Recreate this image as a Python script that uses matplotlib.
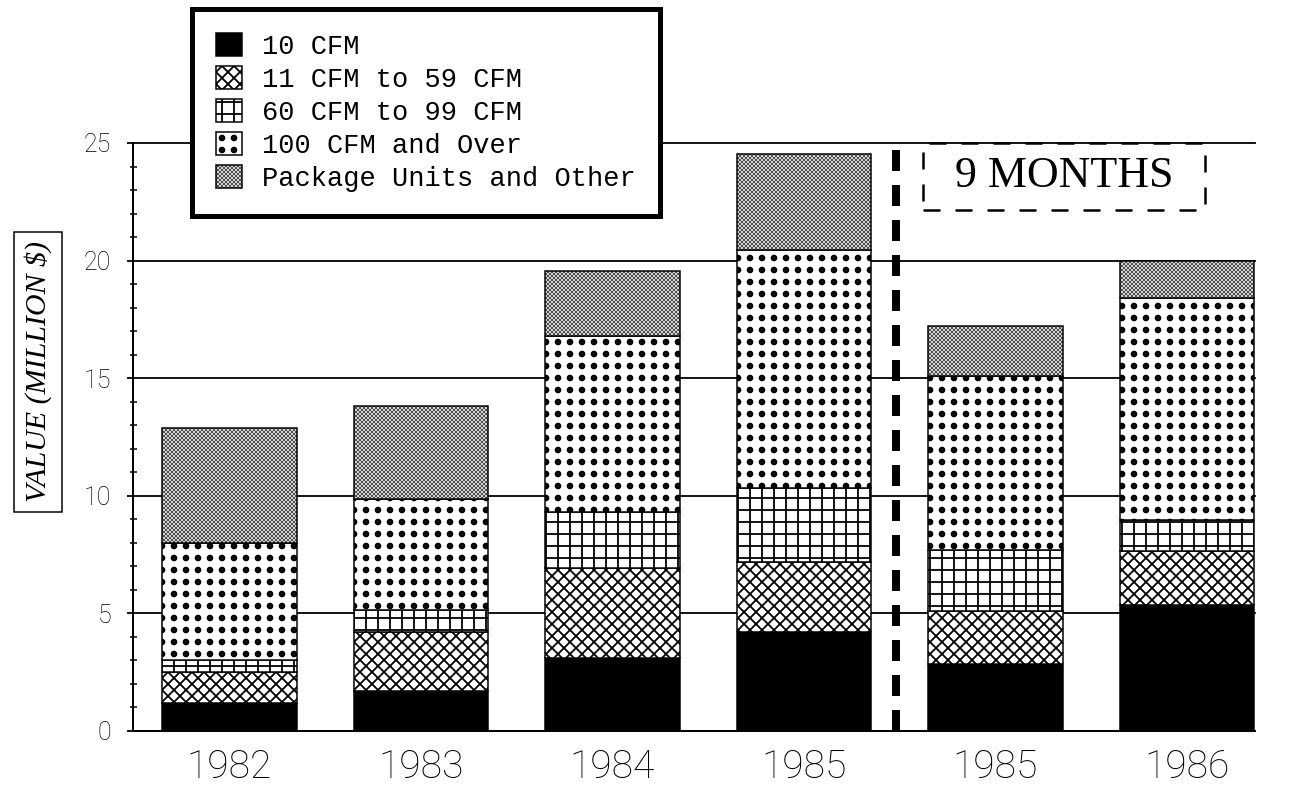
import matplotlib
matplotlib.use("Agg")
import numpy as np
import matplotlib.pyplot as plt
import matplotlib.hatch as mhatch
from matplotlib.path import Path
from matplotlib.patches import Rectangle
from matplotlib.ticker import MultipleLocator, AutoMinorLocator

# values in million $
years = ["1982", "1983", "1984", "1985", "1985", "1986"]
series = ["10 CFM", "11 CFM to 59 CFM", "60 CFM to 99 CFM",
          "100 CFM and Over", "Package Units and Other"]
cfm_10 = [1.2, 1.7, 3.1, 4.2, 2.85, 5.35]
cfm_11_59 = [1.3, 2.5, 3.85, 3.0, 2.25, 2.3]
cfm_60_99 = [0.5, 0.95, 2.35, 3.15, 2.6, 1.3]
cfm_100_over = [5.0, 4.7, 7.5, 10.1, 7.4, 9.45]
package_other = [4.9, 3.95, 2.75, 4.1, 2.1, 1.6]
y_ticks = [0, 5, 10, 15, 20, 25]


class BigDots(mhatch.HatchPatternBase):
    """square grid of filled dots for the '.' hatch"""
    size = 0.2

    def __init__(self, hatch, density):
        self.n = hatch.count('.') * density
        circle = Path.unit_circle()
        self.verts = circle.vertices
        self.codes = circle.codes
        self.num_vertices = self.n * self.n * len(self.verts)

    def set_vertices_and_codes(self, vertices, codes):
        step = 1.0 / self.n
        k = len(self.verts)
        i = 0
        for r in range(self.n):
            for c in range(self.n):
                vertices[i:i + k] = self.verts * step * self.size + [(c + 0.5) * step, (r + 0.5) * step]
                codes[i:i + k] = self.codes
                i += k


mhatch._hatch_types[mhatch._hatch_types.index(mhatch.SmallFilledCircles)] = BigDots

plt.rcParams['hatch.linewidth'] = 1.8
plt.rcParams['lines.scale_dashes'] = False

W, H = 1291, 794
fig = plt.figure(figsize=(W / 72, H / 72))
ax = fig.add_axes([133 / W, 63 / H, (1255 - 133) / W, (731 - 143) / H])

x = np.arange(len(years))
data = [cfm_10, cfm_11_59, cfm_60_99, cfm_100_over, package_other]
faces = ["black", "white", "white", "white", "#e2e2e2"]
hatches = [None, "xx", "+", ".", "xxxxxx"]


def thin_hatch(patch):
    if hasattr(patch, "set_hatch_linewidth"):
        patch.set_hatch_linewidth(0.5)


bottom = np.zeros(len(years))
handles = []
for vals, name, fc, h in zip(data, series, faces, hatches):
    bars = ax.bar(x, vals, 0.7, bottom=bottom, color=fc, edgecolor="black",
                  linewidth=1.5, hatch=h, label=name, zorder=2)
    if h == "xxxxxx":
        for b in bars:
            thin_hatch(b)
    bottom += np.array(vals)
    handles.append(bars)

for v in y_ticks[1:]:
    ax.axhline(v, color="black", lw=1.8, zorder=1, clip_on=False)

ax.set_xlim(-0.504, 5.355)
ax.set_ylim(0, 25)
ax.yaxis.set_major_locator(MultipleLocator(5))
ax.yaxis.set_minor_locator(AutoMinorLocator(5))
ax.set_xticks(x)
ax.set_xticklabels(years, family="Roboto", fontweight="light")
for lab in ax.get_yticklabels():
    lab.set_family("Roboto")
    lab.set_fontweight("light")

ax.tick_params(axis="y", which="major", direction="out", length=6, width=1.8,
               pad=16, labelsize=25)
ax.tick_params(axis="y", which="minor", direction="inout", length=7, width=1.5)
ax.tick_params(axis="x", length=0, pad=18, labelsize=39)

for s in ["top", "right"]:
    ax.spines[s].set_visible(False)
ax.spines["left"].set_linewidth(2)
ax.spines["bottom"].set_linewidth(2)

# 9 month split
ax.axvline(3.48, color="black", lw=8, linestyle=(0, (21, 14)), zorder=3, clip_on=False)
ax.add_patch(Rectangle((3.62, 22.15), 1.474, 2.85, fill=False, ec="black", lw=2.5,
                       linestyle=(0, (17, 15)), clip_on=False, zorder=3))
ax.text(4.357, 23.6, "9 MONTHS", ha="center", va="center", fontsize=44,
        family="Liberation Serif", zorder=4)

fig.text(38 / W, 1 - 372 / H, r"VALUE (MILLION \$)", rotation=90, ha="center",
         va="center", family="Liberation Serif", style="italic", fontsize=30,
         bbox=dict(boxstyle="square,pad=0.32", fc="white", ec="black", lw=1.5))

leg = ax.legend(handles=handles, loc="upper left", bbox_to_anchor=(192 / W, 1 - 9 / H),
                bbox_transform=fig.transFigure, borderaxespad=0, fancybox=False,
                prop={"family": "Liberation Mono", "size": 27}, handlelength=0.95,
                handleheight=0.9, handletextpad=0.75, labelspacing=0.24, borderpad=0.9,
                framealpha=1, edgecolor="black")
leg.get_frame().set_linewidth(5)
leg.set_zorder(5)
thin_hatch(leg.legend_handles[4])

fig.savefig("out.png", dpi=72)
